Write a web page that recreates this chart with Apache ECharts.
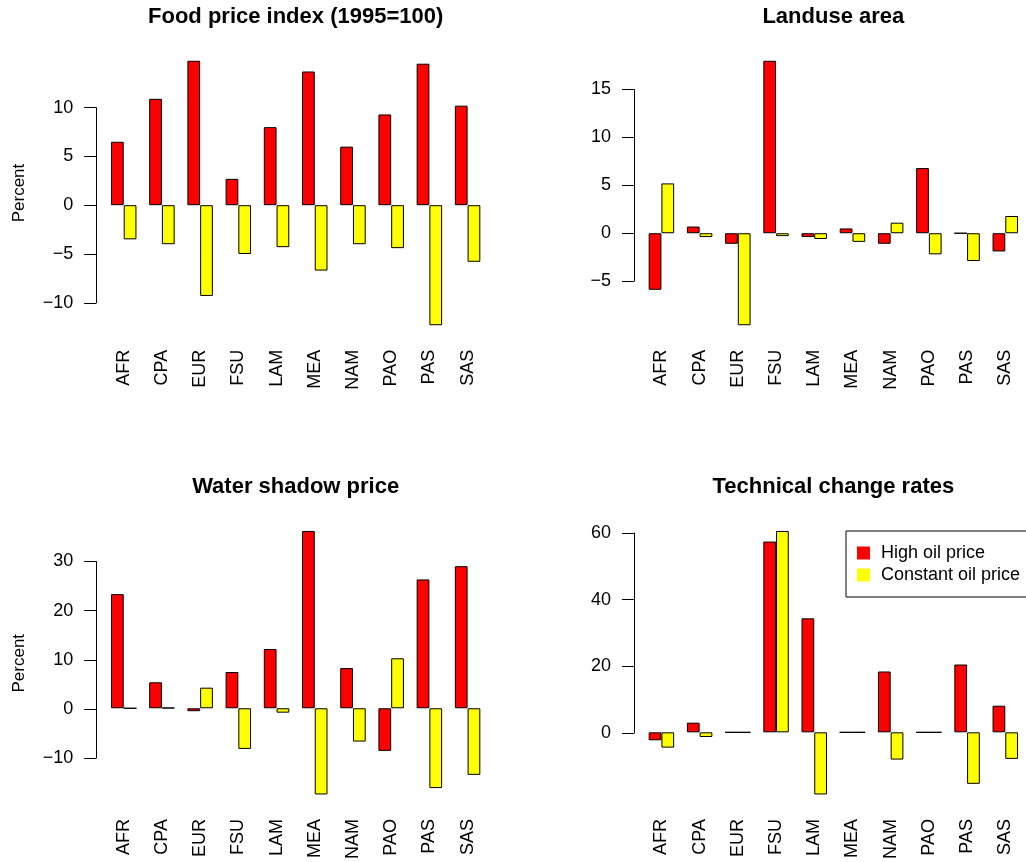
<!DOCTYPE html>
<html>
<head>
<meta charset="utf-8">
<script src="https://cdn.jsdelivr.net/npm/echarts@6/dist/echarts.min.js"></script>
<style>html,body{margin:0;padding:0;background:#fff}#c{width:1026px;height:862px}</style>
</head>
<body>
<div id="c"></div>
<script>
const categories = ['AFR','CPA','EUR','FSU','LAM','MEA','NAM','PAO','PAS','SAS'];
const seriesNames = ['High oil price', 'Constant oil price'];

const foodHigh  = [6.5, 10.9, 14.8, 2.7, 8.0, 13.7, 6.0, 9.3, 14.5, 10.2];
const foodConst = [-3.5, -4.0, -9.3, -5.0, -4.3, -6.7, -4.0, -4.4, -12.3, -5.8];
const landHigh  = [-5.9, 0.7, -1.1, 18.0, -0.4, 0.5, -1.1, 6.8, 0, -1.9];
const landConst = [5.2, -0.4, -9.6, -0.3, -0.6, -0.9, 1.1, -2.2, -2.9, 1.8];
const waterHigh  = [23.3, 5.3, -0.6, 7.4, 12.1, 36.2, 8.2, -8.7, 26.3, 29.0];
const waterConst = [0, 0.1, 4.2, -8.3, -0.9, -17.6, -6.8, 10.2, -16.3, -13.6];
const techHigh  = [-2.4, 2.9, 0, 57.4, 34.3, 0, 18.3, 0, 20.4, 8.0];
const techConst = [-4.6, -1.4, 0, 60.6, -18.7, 0, -8.2, 0, -15.5, -8.0];

// tick labels: [min, max, step]
const foodTicks  = [-10, 10, 5];
const landTicks  = [-5, 15, 5];
const waterTicks = [-10, 30, 10];
const techTicks  = [0, 60, 20];

const titles = ['Food price index (1995=100)', 'Landuse area', 'Water shadow price', 'Technical change rates'];
const yLabel = 'Percent';

const panels = [
  {title: titles[0], high: foodHigh, cons: foodConst, ticks: foodTicks, col: 0, row: 0, ylab: true},
  {title: titles[1], high: landHigh, cons: landConst, ticks: landTicks, col: 1, row: 0, ylab: false},
  {title: titles[2], high: waterHigh, cons: waterConst, ticks: waterTicks, col: 0, row: 1, ylab: true},
  {title: titles[3], high: techHigh, cons: techConst, ticks: techTicks, col: 1, row: 1, ylab: false}
];

// layout (plot regions)
const colL = [96.2, 633.9];
const rowT = [50.2, 520.4];
const plotW = 398.9, plotH = 285.6;
const FONT = 'Liberation Sans, Arial, sans-serif';
const RED = '#FF0000', YEL = '#FFFF00';
const FS = 18;

const grid = [], xAxis = [], yAxis = [], series = [], title = [], graphic = [];

panels.forEach((p, i) => {
  const L = colL[p.col], T = rowT[p.row];
  const all = p.high.concat(p.cons, [0]);
  const dmin = Math.min(...all), dmax = Math.max(...all);
  const ext = 0.04 * (dmax - dmin);
  const ylo = dmin - ext, yhi = dmax + ext;
  // x: bars occupy [1,30]; R extends range by 4%
  const xlo = 1 - 0.04 * 29, xrange = 29 * 1.08;
  const xu = plotW / xrange;
  const bandLeft = L + (0.5 - xlo) * xu;
  const bandW = 30 * xu;

  // main grid
  grid.push({left: bandLeft, top: T, width: bandW, height: plotH, containLabel: false});
  const gm = grid.length - 1;
  xAxis.push({
    type: 'category', gridIndex: gm, data: categories, position: 'bottom',
    axisLine: {show: false, onZero: false}, axisTick: {show: false},
    axisLabel: {rotate: 90, margin: 14, fontSize: FS, color: '#000', fontFamily: FONT, interval: 0},
    splitLine: {show: false}
  });
  yAxis.push({type: 'value', gridIndex: gm, min: ylo, max: yhi, show: false, splitLine: {show: false}});
  const xm = xAxis.length - 1, ym = yAxis.length - 1;

  // axis-only grid spanning tick range (like R's axis)
  const [tmin, tmax, tstep] = p.ticks;
  const aTop = T + (yhi - tmax) / (yhi - ylo) * plotH;
  const aH = (tmax - tmin) / (yhi - ylo) * plotH;
  grid.push({left: L, top: aTop, width: 1, height: aH, containLabel: false});
  const ga = grid.length - 1;
  xAxis.push({type: 'value', gridIndex: ga, show: false});
  yAxis.push({
    type: 'value', gridIndex: ga, min: tmin, max: tmax, interval: tstep, position: 'left',
    axisLine: {show: true, lineStyle: {color: '#000', width: 1}},
    axisTick: {show: true, length: 12, inside: false, lineStyle: {color: '#000', width: 1}},
    axisLabel: {margin: 23, fontSize: FS, color: '#000', fontFamily: FONT,
      formatter: v => String(v).replace('-', '\u2212')},
    splitLine: {show: false}
  });
  const xa = xAxis.length - 1, ya = yAxis.length - 1;
  series.push({type: 'scatter', xAxisIndex: xa, yAxisIndex: ya, data: [], silent: true});

  [p.high, p.cons].forEach((d, k) => {
    series.push({
      type: 'bar', name: seriesNames[k], xAxisIndex: xm, yAxisIndex: ym, data: d,
      barWidth: '33.333%', barGap: '0%',
      itemStyle: {color: k === 0 ? RED : YEL, borderColor: '#000', borderWidth: 1},
      emphasis: {disabled: true}
    });
  });

  title.push({
    text: p.title, left: L + plotW / 2, top: T - 44, textAlign: 'center', padding: 0,
    textStyle: {fontSize: 22, fontWeight: 'bold', color: '#000', fontFamily: FONT}
  });
  if (p.ylab) {
    graphic.push({
      type: 'text', x: 19, y: T + plotH / 2, rotation: Math.PI / 2,
      style: {text: yLabel, fontSize: 17, fontFamily: FONT, fill: '#000', align: 'center', verticalAlign: 'middle'}
    });
  }
});

const chart = echarts.init(document.getElementById('c'), null, {renderer: 'canvas'});
chart.setOption({
  animation: false,
  backgroundColor: '#fff',
  title: title,
  grid: grid, xAxis: xAxis, yAxis: yAxis, series: series,
  graphic: graphic,
  legend: {
    data: seriesNames, orient: 'vertical', left: 846, top: 531,
    padding: [13, 12, 13, 11], itemGap: 4, itemWidth: 13, itemHeight: 13,
    icon: 'rect', borderColor: '#000', borderWidth: 1, borderRadius: 0,
    itemStyle: {borderWidth: 0},
    textStyle: {fontSize: FS, color: '#000', fontFamily: FONT, padding: [0, 0, 0, 6]}
  }
});
</script>
</body>
</html>
